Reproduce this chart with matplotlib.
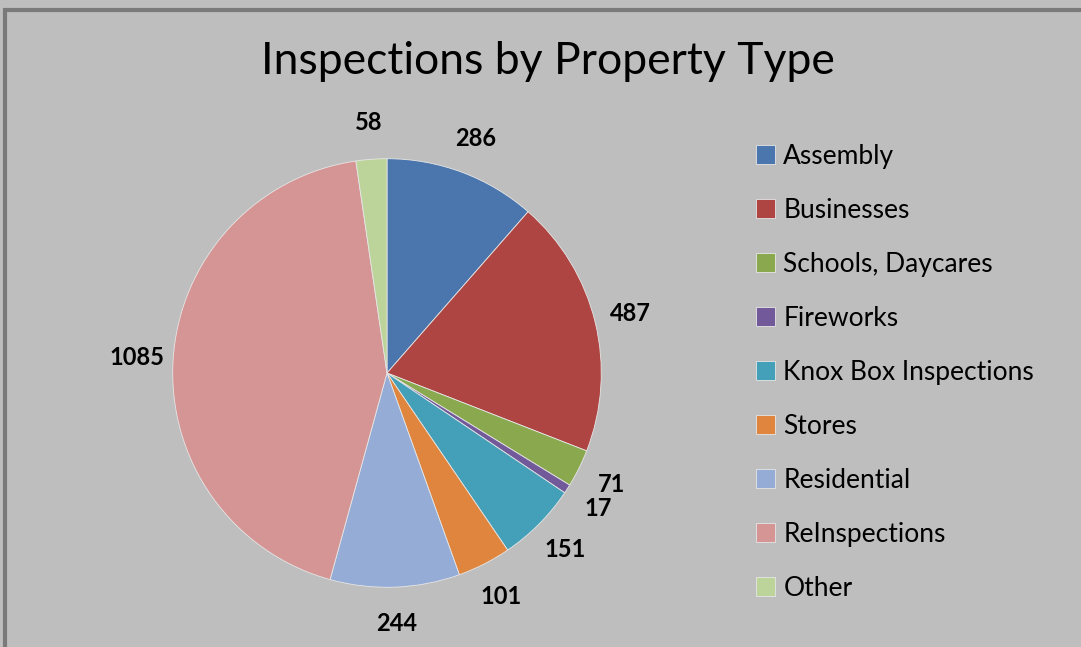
import matplotlib.pyplot as plt
import matplotlib.patches as mpatches
import numpy as np

categories = ['Assembly', 'Businesses', 'Schools, Daycares', 'Fireworks',
              'Knox Box Inspections', 'Stores', 'Residential', 'ReInspections', 'Other']
values = [286, 487, 71, 17, 151, 101, 244, 1085, 58]
colors = ['#4a76ad', '#ae4542', '#8aa94e', '#72599a', '#43a0b8',
          '#e0853d', '#94acd6', '#d69595', '#bcd49a']

plt.rcParams['font.family'] = ['Lato', 'DejaVu Sans']

fig = plt.figure(figsize=(10.81, 6.47), dpi=100)
fig.patch.set_facecolor('#bebebe')

# frame around the chart
fig.patches.append(mpatches.Rectangle((5 / 1081, -0.01), 1.02, 1 - 10 / 647 + 0.01,
                                      transform=fig.transFigure, fill=False,
                                      edgecolor='#7a7a7a', linewidth=3))

ax = fig.add_axes([(387 - 300) / 1081, (647 - 373 - 300) / 647, 600 / 1081, 600 / 647])
ax.set_facecolor('none')
wedges, texts = ax.pie(values, colors=colors, startangle=90, counterclock=False,
                       labels=[str(v) for v in values], labeldistance=1.17,
                       wedgeprops=dict(edgecolor='#e6e6e6', linewidth=0.6),
                       textprops=dict(fontsize=17, fontweight='bold', color='black'))
for t in texts:
    t.set_ha('center')
ax.set_xlim(-1.4, 1.4)
ax.set_ylim(-1.4, 1.4)
ax.set_aspect('equal')
ax.axis('off')

fig.text(548 / 1081, 1 - 62 / 647, 'Inspections by Property Type', fontsize=32,
         ha='center', va='center', color='black')

fig.legend(wedges, categories, loc='upper left', bbox_to_anchor=(745 / 1081, 1 - 133 / 647),
           frameon=False, fontsize=19, labelspacing=1.1, handlelength=0.75, handleheight=0.75,
           handletextpad=0.3, borderaxespad=0)

plt.savefig('out.png', dpi=100, facecolor=fig.get_facecolor())
